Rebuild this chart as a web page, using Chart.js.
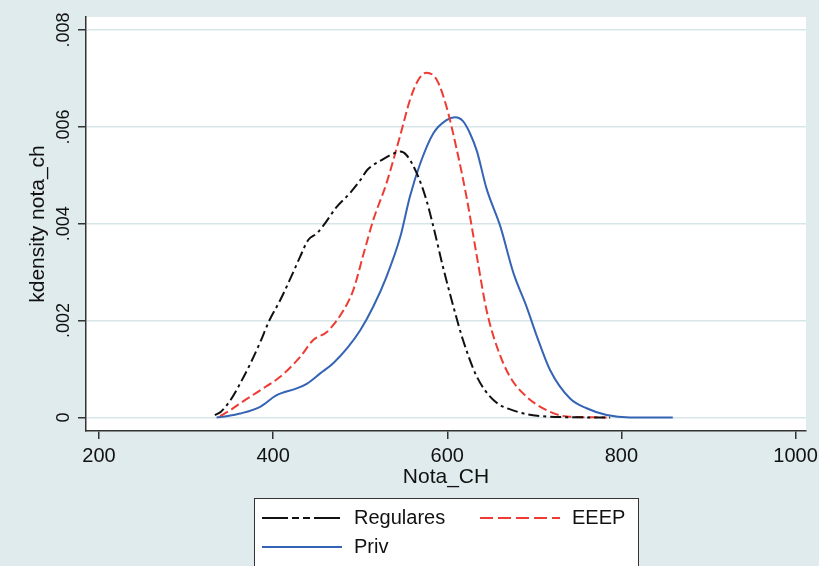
<!DOCTYPE html>
<html>
<head>
<meta charset="utf-8">
<script src="https://cdn.jsdelivr.net/npm/chart.js@4"></script>
<style>
  html, body { margin: 0; padding: 0; background: #dfebed; }
  #wrap { width: 819px; height: 566px; }
</style>
</head>
<body>
<div id="wrap"><canvas id="myChart" width="819" height="566"></canvas></div>
<script>
// Datos (Nota_CH vs densidad)
var regX = [333, 340, 351, 362, 374, 385, 395, 408, 419, 431, 440, 450, 458, 473, 488, 500, 508, 525, 538, 546, 553, 565, 576, 584, 595, 607, 618, 634, 653, 680, 706, 740, 787];
var regY = [0.00005, 0.00012, 0.00036, 0.0007, 0.00112, 0.00155, 0.00198, 0.00242, 0.00284, 0.00332, 0.00366, 0.0038, 0.00397, 0.00435, 0.00463, 0.0049, 0.00511, 0.00532, 0.00545, 0.00549, 0.00542, 0.00504, 0.00449, 0.00394, 0.00311, 0.00229, 0.0016, 0.00084, 0.00036, 0.00012, 0.00003, 0.000005, 0];

var eeepX = [339, 350, 362, 385, 408, 431, 446, 462, 481, 492, 504, 515, 530, 546, 557, 566, 576, 588, 599, 611, 622, 634, 645, 657, 672, 691, 714, 737, 760, 783];
var eeepY = [0.00003, 0.00014, 0.00029, 0.00056, 0.00084, 0.00125, 0.0016, 0.00177, 0.00222, 0.00263, 0.00339, 0.00408, 0.00483, 0.00583, 0.00655, 0.00695, 0.00712, 0.00697, 0.00642, 0.00552, 0.00456, 0.00332, 0.00222, 0.00146, 0.00084, 0.00043, 0.00015, 0.00002, 0.000005, 0];

var privX = [335, 348, 362, 385, 404, 427, 439, 454, 469, 485, 500, 515, 530, 546, 557, 569, 584, 599, 609, 618, 626, 634, 645, 661, 676, 691, 703, 718, 741, 760, 783, 810, 859];
var privY = [0, 0.00003, 0.00008, 0.00022, 0.00046, 0.0006, 0.0007, 0.00091, 0.00112, 0.00143, 0.0018, 0.00229, 0.0029, 0.00373, 0.00456, 0.00525, 0.00587, 0.00614, 0.0062, 0.00612, 0.00587, 0.0055, 0.00473, 0.00394, 0.00298, 0.00229, 0.00167, 0.00098, 0.00039, 0.00019, 0.00005, 0, 0];

var seriesNames = ['Regulares', 'EEEP', 'Priv'];
var xTicks = [200, 400, 600, 800, 1000];
var xTickLabels = ['200', '400', '600', '800', '1000'];
var yTicks = [0, 0.002, 0.004, 0.006, 0.008];
var yTickLabels = ['0', '.002', '.004', '.006', '.008'];

function pares(xs, ys) {
  return xs.map(function (x, i) { return { x: x, y: ys[i] }; });
}

var FONT = '"Liberation Sans", Arial, sans-serif';

// fondo azulado y area del grafico blanca
var fondo = {
  id: 'fondo',
  beforeDraw: function (chart) {
    var c = chart.ctx, a = chart.chartArea;
    c.save();
    c.fillStyle = '#dfebed';
    c.fillRect(0, 0, chart.width, chart.height);
    c.fillStyle = '#ffffff';
    c.fillRect(a.left, a.top, a.right - a.left, a.bottom - a.top);
    c.restore();
  }
};

// leyenda con recuadro (estilo Stata)
var leyenda = {
  id: 'leyenda',
  afterDraw: function (chart) {
    var c = chart.ctx;
    var ds = chart.data.datasets;
    var box = { left: 254, top: 498, right: 638, bottom: 575 };
    var slots = [
      { x: 262, y: 518, tx: 354 },
      { x: 480, y: 518, tx: 572 },
      { x: 262, y: 547, tx: 354 }
    ];
    c.save();
    c.fillStyle = '#ffffff';
    c.fillRect(box.left, box.top, box.right - box.left, box.bottom - box.top);
    c.strokeStyle = '#333333';
    c.lineWidth = 1;
    c.strokeRect(box.left + 0.5, box.top + 0.5, box.right - box.left, box.bottom - box.top);
    ds.forEach(function (d, i) {
      var s = slots[i];
      c.beginPath();
      c.setLineDash(d.legendDash || []);
      c.strokeStyle = d.borderColor;
      c.lineWidth = 2.2;
      c.moveTo(s.x, s.y);
      c.lineTo(s.x + 80, s.y);
      c.stroke();
      c.setLineDash([]);
      c.fillStyle = '#111111';
      c.font = '20px ' + FONT;
      c.textBaseline = 'middle';
      c.textAlign = 'left';
      c.fillText(d.label, s.tx, s.y);
    });
    c.restore();
  }
};

var ctx = document.getElementById('myChart').getContext('2d');
var chart = new Chart(ctx, {
  type: 'line',
  data: {
    datasets: [{
      label: seriesNames[0],
      data: pares(regX, regY),
      borderColor: '#111111',
      borderWidth: 2,
      borderDash: [11, 4, 3, 4],
      legendDash: [26, 4, 7, 4, 7, 4],
      pointRadius: 0,
      cubicInterpolationMode: 'monotone'
    }, {
      label: seriesNames[1],
      data: pares(eeepX, eeepY),
      borderColor: '#ee3b33',
      borderWidth: 2,
      borderDash: [9, 4],
      legendDash: [13, 5],
      pointRadius: 0,
      cubicInterpolationMode: 'monotone'
    }, {
      label: seriesNames[2],
      data: pares(privX, privY),
      borderColor: '#3564b4',
      borderWidth: 2,
      pointRadius: 0,
      cubicInterpolationMode: 'monotone'
    }]
  },
  options: {
    responsive: false,
    animation: false,
    layout: { padding: { left: 0, top: 17, right: 13, bottom: 76 } },
    plugins: {
      legend: { display: false },
      tooltip: { enabled: false }
    },
    scales: {
      x: {
        type: 'linear',
        min: 185,
        max: 1012,
        afterBuildTicks: function (s) { s.ticks = xTicks.map(function (v) { return { value: v }; }); },
        afterFit: function (s) { s.height = 59; s.paddingLeft = 0; s.paddingRight = 0; },
        ticks: {
          color: '#111111',
          font: { family: FONT, size: 20 },
          padding: 5,
          maxRotation: 0,
          callback: function (v, i) { return xTickLabels[i]; }
        },
        grid: { drawOnChartArea: false, drawTicks: true, tickLength: 8, tickColor: '#333333', lineWidth: 1.5 },
        border: { display: true, color: '#333333', width: 1.5 },
        title: {
          display: true,
          text: 'Nota_CH',
          color: '#111111',
          font: { family: FONT, size: 21 },
          padding: { top: 0, bottom: 0 }
        }
      },
      y: {
        min: -0.00028,
        max: 0.00827,
        afterBuildTicks: function (s) { s.ticks = yTicks.map(function (v) { return { value: v }; }); },
        afterFit: function (s) { s.width = 86; s.paddingTop = 0; s.paddingBottom = 0; },
        ticks: {
          color: '#111111',
          font: { family: FONT, size: 18 },
          padding: -4,
          minRotation: 90,
          maxRotation: 90,
          crossAlign: 'center',
          callback: function (v, i) { return yTickLabels[i]; }
        },
        grid: { color: '#d5e5e8', lineWidth: 1.5, drawTicks: true, tickLength: 8, tickColor: '#333333' },
        border: { display: true, color: '#333333', width: 1.5 },
        title: {
          display: true,
          text: 'kdensity nota_ch',
          color: '#111111',
          font: { family: FONT, size: 21 },
          padding: { top: 26, bottom: 0 }
        }
      }
    }
  },
  plugins: [fondo, leyenda]
});
</script>
</body>
</html>
